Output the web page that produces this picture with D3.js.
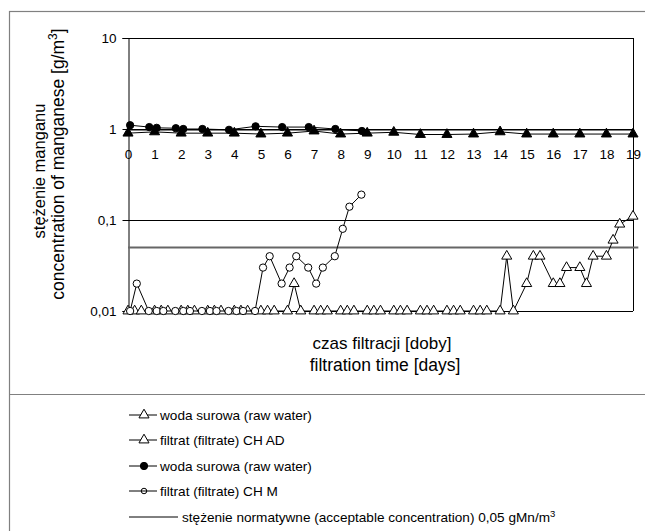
<!DOCTYPE html>
<html><head><meta charset="utf-8">
<script src="https://cdn.jsdelivr.net/npm/d3@7"></script>
<style>body{margin:0;background:#fff}svg{display:block;font-family:"Liberation Sans",Arial,sans-serif}</style>
</head><body><svg id="c" width="645" height="531"></svg>
<script>
// ---- data ----
const dayTicks = [0,1,2,3,4,5,6,7,8,9,10,11,12,13,14,15,16,17,18,19];
const yTickValues = [10,1,0.1,0.01];
const yTickLabels = ["10","1","0,1","0,01"];

// raw water (CH AD) - filled triangles
const rawADdays = [0,1,2,3,4,5,6,7,8,9,10,11,12,13,14,15,16,17,18,19];
const rawADvals = [0.9,0.93,0.9,0.9,0.9,0.88,0.9,0.95,0.88,0.9,0.92,0.87,0.87,0.88,0.93,0.88,0.88,0.88,0.88,0.88];

// filtrate CH AD - open triangles
const adDays = [0,0.25,0.5,1,1.25,1.5,2,2.25,2.5,3,3.25,3.5,4,4.25,4.5,5,5.25,5.5,6,6.25,6.5,7,7.25,7.5,8,8.25,8.5,9,9.25,9.5,10,10.25,10.5,11,11.25,11.5,12,12.25,12.5,13,13.25,13.5,14,14.25,14.5,15,15.25,15.5,16,16.25,16.5,17,17.25,17.5,18,18.25,18.5,19];
const adVals = [0.01,0.01,0.01, 0.01,0.01,0.01, 0.01,0.01,0.01, 0.01,0.01,0.01, 0.01,0.01,0.01, 0.01,0.01,0.01, 0.01,0.02,0.01, 0.01,0.01,0.01, 0.01,0.01,0.01, 0.01,0.01,0.01, 0.01,0.01,0.01, 0.01,0.01,0.01, 0.01,0.01,0.01, 0.01,0.01,0.01, 0.01,0.04,0.01, 0.02,0.04,0.04, 0.02,0.02,0.03, 0.03,0.02,0.04, 0.04,0.06,0.09, 0.11];

// raw water (CH M) - filled circles
const rawMdays = [0.08,0.8,1.08,1.8,2.08,2.8,3.8,4.8,5.8,6.8,7.8,8.8];
const rawMvals = [1.1,1.05,1.03,1.02,1.0,1.0,0.98,1.07,1.05,1.05,1.0,0.95];

// filtrate CH M - open circles
const mDays = [0.08,0.33,0.78,1.08,1.33,1.78,2.08,2.33,2.78,3.08,3.33,3.78,4.08,4.33,4.78,5.08,5.33,5.78,6.08,6.33,6.78,7.08,7.33,7.78,8.08,8.33,8.78];
const mVals = [0.01,0.02,0.01, 0.01,0.01,0.01, 0.01,0.01,0.01, 0.01,0.01,0.01, 0.01,0.01,0.01, 0.03,0.04,0.02, 0.03,0.04,0.03, 0.02,0.03,0.04, 0.08,0.14,0.19];

// acceptable concentration
const normDays = [0,19.2];
const normVals = [0.05,0.05];

const legendLabels = ["woda surowa (raw water)","filtrat (filtrate) CH AD","woda surowa (raw water)","filtrat (filtrate) CH M","stężenie normatywne (acceptable concentration) 0,05 gMn/m"];

// ---- drawing ----
const svg = d3.select("#c");
const x = d3.scaleLinear().domain([0,19]).range([128,633]);
const y = d3.scaleLog().domain([0.01,10]).range([311,38]);

// outer frame + separator
svg.append("rect").attr("x",9.5).attr("y",11.5).attr("width",640).attr("height",525)
  .attr("fill","none").attr("stroke","#808080").attr("stroke-width",1.2);
svg.append("line").attr("x1",10).attr("x2",645).attr("y1",394.5).attr("y2",394.5)
  .attr("stroke","#808080").attr("stroke-width",1.2);

// gridlines at major decades
svg.append("g").selectAll("line").data(yTickValues).join("line")
  .attr("x1",x(0)).attr("x2",x(19)).attr("y1",d=>Math.round(y(d))+0.5).attr("y2",d=>Math.round(y(d))+0.5)
  .attr("stroke","#000").attr("stroke-width",1);
// right border
svg.append("line").attr("x1",x(19)+0.5).attr("x2",x(19)+0.5).attr("y1",y(10)).attr("y2",y(0.01)).attr("stroke","#000");

// y axis
const yAxis = d3.axisLeft(y).tickValues(yTickValues).tickFormat((d,i)=>yTickLabels[i]).tickSize(6).tickPadding(6);
const gy = svg.append("g").attr("transform",`translate(${x(0)+0.5},0)`).call(yAxis);
gy.select(".domain").attr("stroke","#000");
gy.selectAll("text").attr("font-size",13.5).attr("fill","#000").attr("font-family","Liberation Sans, Arial");
gy.selectAll("line").attr("stroke","#000");

// x axis at y=1
const xAxis = d3.axisBottom(x).tickValues(dayTicks).tickFormat(d3.format("d")).tickSize(0).tickPadding(20);
const gx = svg.append("g").attr("transform",`translate(0,${Math.round(y(1))+0.5})`).call(xAxis);
gx.select(".domain").attr("stroke","#000");
gx.selectAll("text").attr("font-size",13.5).attr("fill","#000").attr("font-family","Liberation Sans, Arial");

// normative line
svg.append("path").datum(d3.zip(normDays,normVals))
  .attr("d",d3.line().x(d=>x(d[0])).y(d=>y(d[1])))
  .attr("stroke","#666").attr("stroke-width",2).attr("fill","none");

const tri = d3.symbol().type(d3.symbolTriangle).size(44);
const circ = d3.symbol().type(d3.symbolCircle).size(42);

function series(xs, vs, sym, fill){
  const pts = d3.zip(xs,vs);
  svg.append("path").datum(pts).attr("d",d3.line().x(d=>x(d[0])).y(d=>y(d[1])))
    .attr("stroke","#000").attr("stroke-width",1).attr("fill","none");
  svg.append("g").selectAll("path").data(pts).join("path")
    .attr("d",sym).attr("transform",d=>`translate(${x(d[0])},${y(d[1])})`)
    .attr("fill",fill).attr("stroke","#000").attr("stroke-width",1);
}
series(rawADdays, rawADvals, tri, "#000");
series(adDays, adVals, tri, "#fff");
series(mDays, mVals, circ, "#fff");
series(rawMdays, rawMvals, circ, "#000");

// axis titles
const yt = svg.append("text").attr("transform","translate(45,171) rotate(-90)")
  .attr("text-anchor","middle").attr("font-size",16.5);
yt.append("tspan").text("stężenie manganu");
const yt2 = svg.append("text").attr("transform","translate(64,164) rotate(-90)")
  .attr("text-anchor","middle").attr("font-size",17.5);
yt2.append("tspan").text("concentration of manganese [g/m");
yt2.append("tspan").attr("dy",-7).attr("font-size",12).text("3");
yt2.append("tspan").attr("dy",7).text("]");

svg.append("text").attr("x",382).attr("y",349).attr("text-anchor","middle").attr("font-size",17).text("czas filtracji [doby]");
svg.append("text").attr("x",385).attr("y",371).attr("text-anchor","middle").attr("font-size",17.5).text("filtration time [days]");

// legend
const legY = [415,440,466,491,517];
const leg = svg.append("g");
legendLabels.forEach((lab,i)=>{
  const yy = legY[i];
  const x2 = i===4 ? 178 : 157;
  leg.append("line").attr("x1",129).attr("x2",x2).attr("y1",yy).attr("y2",yy).attr("stroke","#000");
  if(i<2) leg.append("path").attr("d",tri).attr("transform",`translate(144,${yy})`).attr("fill","#fff").attr("stroke","#000");
  if(i===2) leg.append("path").attr("d",circ).attr("transform",`translate(144,${yy})`).attr("fill","#000").attr("stroke","#000");
  if(i===3) leg.append("path").attr("d",d3.symbol().type(d3.symbolCircle).size(24)).attr("transform",`translate(144,${yy})`).attr("fill","none").attr("stroke","#000");
  const t = leg.append("text").attr("x",i===4?182:160).attr("y",yy+5).attr("font-size",13.6).text(lab);
  if(i===4){ t.append("tspan").attr("dy",-5).attr("font-size",9.5).text("3"); }
});
</script></body></html>
